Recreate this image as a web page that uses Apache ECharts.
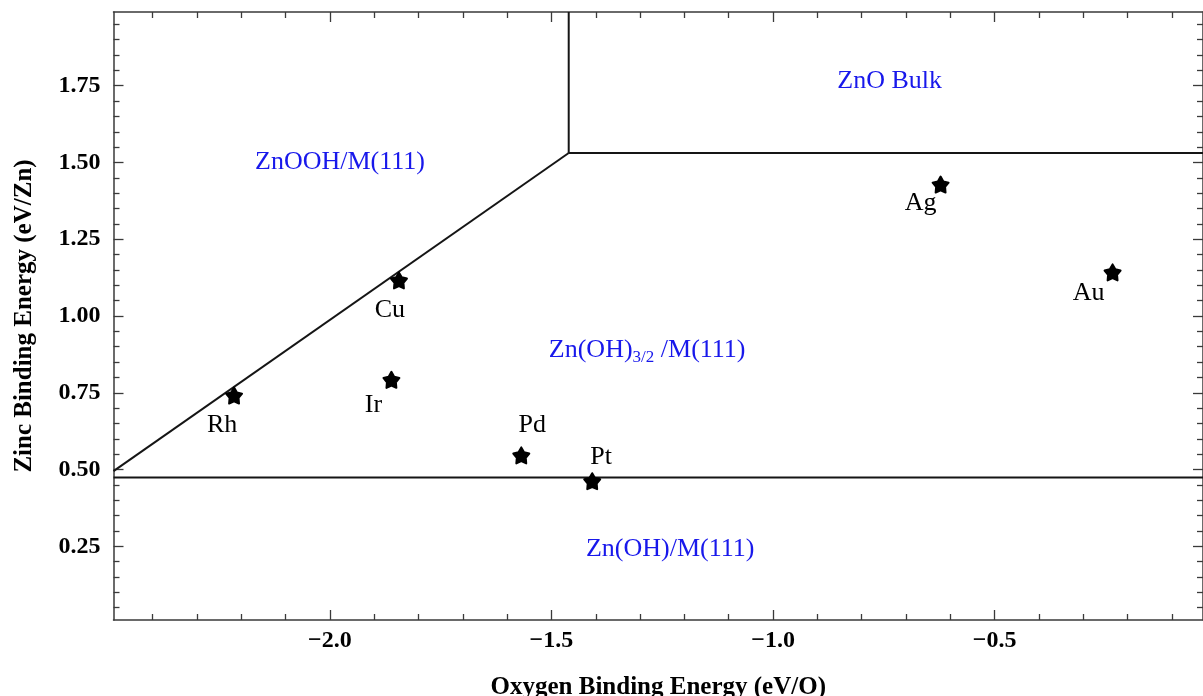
<!DOCTYPE html>
<html>
<head>
<meta charset="utf-8">
<script src="https://cdn.jsdelivr.net/npm/echarts@6/dist/echarts.min.js"></script>
<style>
html,body{margin:0;padding:0;background:#fff;}
#chart{width:1203px;height:696px;}
</style>
</head>
<body>
<div id="chart"></div>
<script>
// ---- data ----
const metals = ['Rh', 'Cu', 'Ir', 'Pd', 'Pt', 'Ag', 'Au'];
const oxygenBE = [-2.216, -1.844, -1.861, -1.568, -1.408, -0.622, -0.234];
const zincBE = [0.741, 1.116, 0.792, 0.546, 0.462, 1.428, 1.142];

// phase boundaries (x = O binding energy, y = Zn binding energy)
const boundaryLower = [[-2.488, 0.474], [-0.03, 0.474]];
const boundaryDiagonal = [[-2.488, 0.495], [-1.461, 1.531]];
const boundaryVertical = [[-1.461, 1.531], [-1.461, 1.99]];
const boundaryUpper = [[-1.461, 1.531], [-0.03, 1.531]];

// phase region labels
const regionNames = ['ZnOOH/M(111)', 'ZnO Bulk', 'Zn(OH){sub|3/2} /M(111)', 'Zn(OH)/M(111)'];
const regionX = [-1.977, -0.737, -1.284, -1.232];
const regionY = [1.500, 1.764, 0.888, 0.242];

// axis ticks
const xMajorTicks = [-2.0, -1.5, -1.0, -0.5];
const xMinorTicks = [-2.4, -2.3, -2.2, -2.1, -1.9, -1.8, -1.7, -1.6, -1.4, -1.3, -1.2, -1.1,
                     -0.9, -0.8, -0.7, -0.6, -0.4, -0.3, -0.2, -0.1];
const yMajorTicks = [0.25, 0.50, 0.75, 1.00, 1.25, 1.50, 1.75];
const yMinorTicks = [0.05, 0.10, 0.15, 0.20, 0.30, 0.35, 0.40, 0.45, 0.55, 0.60, 0.65, 0.70,
                     0.80, 0.85, 0.90, 0.95, 1.05, 1.10, 1.15, 1.20, 1.30, 1.35, 1.40, 1.45,
                     1.55, 1.60, 1.65, 1.70, 1.80, 1.85, 1.90, 1.95];
const xRange = [-2.488, -0.03];
const yRange = [0.01, 1.99];

// ---- styling / layout (not data) ----
const serif = "'Liberation Serif', 'Times New Roman', serif";
const labelOffsets = {Rh: [-12, 30], Cu: [-9, 30], Ir: [-18, 25], Pd: [11, -30], Pt: [9, -24], Ag: [-20, 19], Au: [-24, 21]};
const starPath = 'path://M50 0 L66.46 27.35 L97.55 34.55 L76.63 58.65 L79.39 90.45 L50 78 L20.61 90.45 L23.37 58.65 L2.45 34.55 L33.54 27.35 Z';
const spineColor = '#3a3a3a';
const blue = 'rgb(24,24,235)';

function fmtX(v) { return (v < 0 ? '\u2212' : '') + Math.abs(v).toFixed(1); }

function xAx(position, ticks, len, isMain) {
  return {
    type: 'value', position: position, min: xRange[0], max: xRange[1],
    gridIndex: 0,
    axisLine: {show: isMain, onZero: false, lineStyle: {color: spineColor, width: 1.5}},
    axisTick: {show: true, inside: true, length: len, customValues: ticks, lineStyle: {color: spineColor, width: 1.3}},
    axisLabel: (isMain && position === 'bottom') ? {
      show: true, customValues: xMajorTicks, formatter: fmtX, margin: 9,
      fontFamily: serif, fontWeight: 'bold', fontSize: 24, color: '#000'
    } : {show: false},
    splitLine: {show: false},
    name: (isMain && position === 'bottom') ? 'Oxygen Binding Energy (eV/O)' : '',
    nameLocation: 'middle', nameGap: 55,
    nameTextStyle: {fontFamily: serif, fontWeight: 'bold', fontSize: 25, color: '#000'}
  };
}
function yAx(position, ticks, len, isMain) {
  return {
    type: 'value', position: position, min: yRange[0], max: yRange[1],
    gridIndex: 0,
    axisLine: {show: isMain, onZero: false, lineStyle: {color: spineColor, width: 1.5}},
    axisTick: {show: true, inside: true, length: len, customValues: ticks, lineStyle: {color: spineColor, width: 1.3}},
    axisLabel: (isMain && position === 'left') ? {
      show: true, customValues: yMajorTicks, formatter: v => v.toFixed(2), margin: 13,
      fontFamily: serif, fontWeight: 'bold', fontSize: 24, color: '#000'
    } : {show: false},
    splitLine: {show: false},
    name: (isMain && position === 'left') ? 'Zinc Binding Energy (eV/Zn)' : '',
    nameLocation: 'middle', nameGap: 76, nameRotate: 90,
    nameTextStyle: {fontFamily: serif, fontWeight: 'bold', fontSize: 25, color: '#000'}
  };
}

const lineStyle = {color: '#151515', width: 2};
function boundarySeries(data) {
  return {type: 'line', data: data, symbol: 'none', lineStyle: lineStyle, silent: true,
          xAxisIndex: 0, yAxisIndex: 0, z: 3, animation: false};
}

const chart = echarts.init(document.getElementById('chart'), null, {renderer: 'canvas'});
chart.setOption({
  animation: false,
  backgroundColor: '#ffffff',
  grid: {left: 113.5, right: 0, top: 12, bottom: 76, containLabel: false, outerBoundsMode: 'none'},
  xAxis: [
    xAx('bottom', xMajorTicks, 10, true),
    xAx('bottom', xMinorTicks, 6, false),
    xAx('top', xMajorTicks, 10, true),
    xAx('top', xMinorTicks, 6, false)
  ],
  yAxis: [
    yAx('left', yMajorTicks, 10, true),
    yAx('left', yMinorTicks, 6, false),
    yAx('right', yMajorTicks, 10, true),
    yAx('right', yMinorTicks, 6, false)
  ],
  series: [
    boundarySeries(boundaryLower),
    boundarySeries(boundaryDiagonal),
    boundarySeries(boundaryVertical),
    boundarySeries(boundaryUpper),
    {
      type: 'scatter', xAxisIndex: 0, yAxisIndex: 0, z: 5,
      symbol: starPath, symbolSize: 16,
      itemStyle: {color: '#000', opacity: 1, borderColor: '#000', borderWidth: 2, borderJoin: 'round'},
      data: metals.map((m, i) => ({
        value: [oxygenBE[i], zincBE[i]], name: m,
        label: {show: true, position: 'inside', formatter: m, offset: labelOffsets[m],
                fontFamily: serif, fontSize: 26, color: '#000', opacity: 1}
      }))
    },
    {
      type: 'scatter', xAxisIndex: 0, yAxisIndex: 0, z: 6,
      symbol: 'circle', symbolSize: 1, silent: true,
      itemStyle: {color: 'rgba(0,0,0,0)', opacity: 1},
      data: regionNames.map((n, i) => ({
        value: [regionX[i], regionY[i]],
        label: {
          show: true, position: 'inside', formatter: n,
          fontFamily: serif, fontSize: 26, color: blue, opacity: 1,
          rich: {
            sub: {fontFamily: serif, fontSize: 17, color: blue, padding: [14, 0, 0, 0]}
          }
        }
      }))
    }
  ]
});
</script>
</body>
</html>
